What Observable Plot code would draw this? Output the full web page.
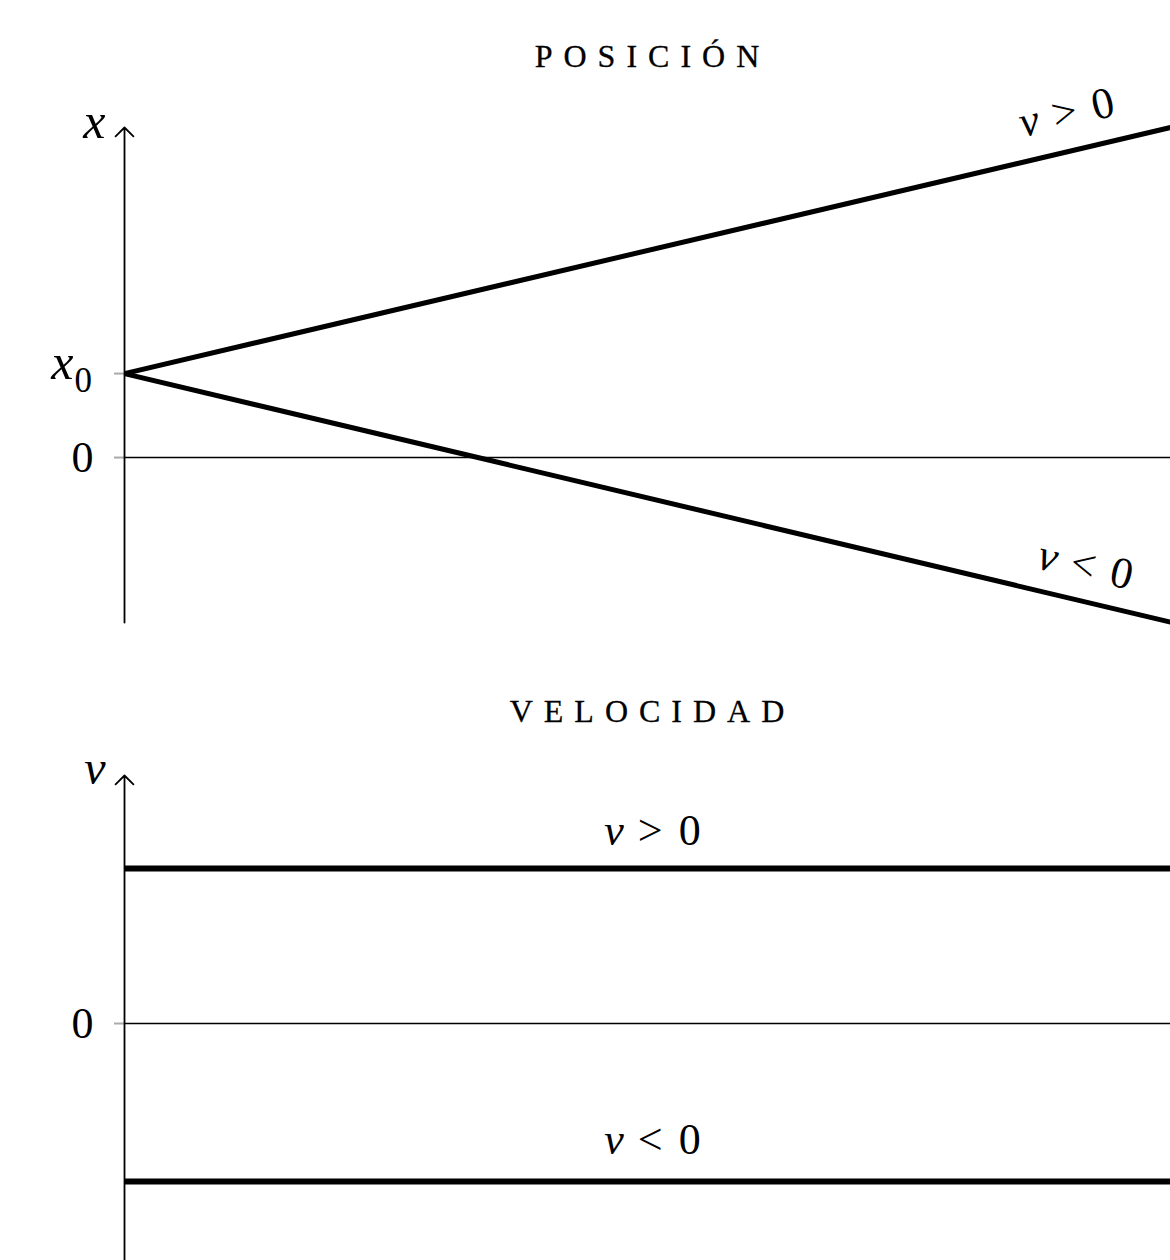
<!DOCTYPE html>
<html><head><meta charset="utf-8">
<script src="https://cdn.jsdelivr.net/npm/d3@7"></script>
<script src="https://cdn.jsdelivr.net/npm/@observablehq/plot@0.6"></script>
<style>
body{margin:0;background:#fff;width:1170px;height:1260px;position:relative;overflow:hidden;font-family:"Liberation Serif",serif}
.title{position:absolute;left:124px;width:1046px;text-align:center;font-size:32px;line-height:32px;letter-spacing:11px;text-indent:11px;text-transform:uppercase;color:#000;z-index:2;-webkit-text-stroke:0.3px #000}
#p1{position:absolute;left:0;top:80px}
#p2{position:absolute;left:0;top:745px}
svg{overflow:visible}
</style></head><body>
<div id="p1"></div><div id="p2"></div>
<div class="title" id="t1" style="top:40px"></div>
<div class="title" id="t2" style="top:695px"></div>
<script>
// ---- data ----
const titles = ["posición", "velocidad"];
const time = [0, 1];                 // start / end of the time span
const x0 = 1;                        // initial position
const xEnd = [3.93, -1.96];          // final position for v>0, v<0
const vValues = [1, -1.02];          // constant velocity for v>0, v<0
const lineLabels = ["v > 0", "v < 0"];
const posTicks = [0, x0];
const velTicks = [0];
const posDomain = [-1.964, 3.93];
const velDomain = [-1.529, 1.6];

document.getElementById("t1").textContent = titles[0];
document.getElementById("t2").textContent = titles[1];

const font = "Liberation Serif";
const posLines = [0, 1].map(k => time.map((t, i) => ({t, x: i === 0 ? x0 : xEnd[k], k})));
const velLines = [0, 1].map(k => time.map(t => ({t, v: vValues[k], k})));

function mathify(svg) {
  svg.querySelectorAll("text").forEach(el => {
    const s = el.textContent;
    const m = /^v ([<>]) 0$/.exec(s);
    if (m) {
      el.innerHTML = `<tspan font-style="italic">v</tspan><tspan dx="14">${m[1] === "<" ? "&lt;" : "&gt;"}</tspan><tspan dx="16">0</tspan>`;
    }
  });
  return svg;
}

const p1 = Plot.plot({
  width: 1170, height: 560,
  marginLeft: 124, marginRight: 0, marginTop: 47, marginBottom: 18,
  x: {domain: [time[0], time[1]], axis: null},
  y: {domain: posDomain, axis: null},
  style: {background: "transparent", fontFamily: font, overflow: "visible"},
  marks: [
    Plot.ruleY(posTicks, {x1: 0, x2: 0, insetLeft: -10, stroke: "#aaa", strokeWidth: 2}),
    Plot.ruleY([0], {stroke: "black", strokeWidth: 1.5}),
    Plot.arrow([0], {x1: 0, x2: 0, y1: posDomain[0], y2: posDomain[1], headAngle: 90, headLength: 10.5, strokeWidth: 1.8, stroke: "black"}),
    ...posLines.map(d => Plot.line(d, {x: "t", y: "x", stroke: "black", strokeWidth: 5, strokeLinecap: "butt"})),
    Plot.text(["0"], {x: 0, y: 0, text: d => d, textAnchor: "end", dx: -31, fontSize: 44, fill: "black"}),
    Plot.text(["x"], {x: 0, y: x0, text: d => d, textAnchor: "end", dx: -51, dy: -11, fontSize: 50, fontStyle: "italic", fill: "black"}),
    Plot.text(["0"], {x: 0, y: x0, text: d => d, textAnchor: "start", dx: -50, dy: 7, fontSize: 35, fill: "black"}),
    Plot.text(["x"], {x: 0, y: posDomain[1], text: d => d, textAnchor: "end", dx: -19, dy: -6, fontSize: 50, fontStyle: "italic", fill: "black"}),
    Plot.text([lineLabels[0]], {x: time[1], y: xEnd[0], text: d => d, dx: -104, dy: -15, rotate: -13.2, fontSize: 44, fill: "black"}),
    Plot.text([lineLabels[1]], {x: time[1], y: xEnd[1], text: d => d, dx: -85, dy: -57, rotate: 13.2, fontSize: 44, fill: "black"})
  ]
});
document.getElementById("p1").append(mathify(p1));

const p2 = Plot.plot({
  width: 1170, height: 515,
  marginLeft: 124, marginRight: 0, marginTop: 30, marginBottom: 0,
  x: {domain: [time[0], time[1]], axis: null},
  y: {domain: velDomain, axis: null},
  style: {background: "transparent", fontFamily: font, overflow: "visible"},
  marks: [
    Plot.ruleY(velTicks, {x1: 0, x2: 0, insetLeft: -10, stroke: "#aaa", strokeWidth: 2}),
    Plot.ruleY([0], {stroke: "black", strokeWidth: 1.5}),
    Plot.arrow([0], {x1: 0, x2: 0, y1: velDomain[0], y2: velDomain[1], headAngle: 90, headLength: 10.5, strokeWidth: 1.8, stroke: "black"}),
    ...velLines.map(d => Plot.line(d, {x: "t", y: "v", stroke: "black", strokeWidth: 6, strokeLinecap: "butt"})),
    Plot.text(["0"], {x: 0, y: 0, text: d => d, textAnchor: "end", dx: -31, fontSize: 44, fill: "black"}),
    Plot.text(["v"], {x: 0, y: velDomain[1], text: d => d, textAnchor: "end", dx: -19, dy: -7, fontSize: 48, fontStyle: "italic", fill: "black"}),
    Plot.text([lineLabels[0]], {x: 0.5, y: vValues[0], text: d => d, dx: 5, dy: -38, fontSize: 44, fill: "black"}),
    Plot.text([lineLabels[1]], {x: 0.5, y: vValues[1], text: d => d, dx: 5, dy: -42, fontSize: 44, fill: "black"})
  ]
});
document.getElementById("p2").append(mathify(p2));
</script>
</body></html>
